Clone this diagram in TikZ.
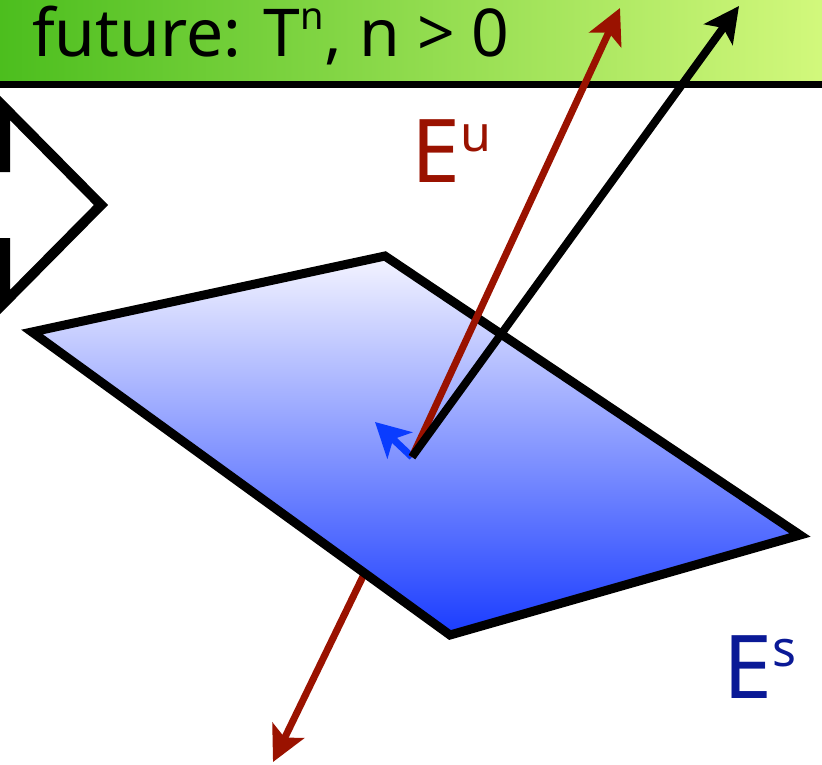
\documentclass[tikz,border=0pt]{standalone}
\usepackage{fontspec}
\setmainfont{Noto Sans}
\usetikzlibrary{arrows.meta}
\definecolor{bnleft}{HTML}{4CBE1E}
\definecolor{bnright}{HTML}{D2F87C}
\definecolor{pltop}{HTML}{F4F4FF}
\definecolor{plbot}{HTML}{1A3CFF}
\definecolor{eured}{HTML}{9A1200}
\definecolor{esblue}{HTML}{0A1996}
\definecolor{stblue}{HTML}{0A3CFF}
\newcommand\hiscript[3]{{\fontsize{#1}{#1}\selectfont\raisebox{#2}{#3}}}

\begin{document}
\begin{tikzpicture}[x=1pt, y=-1pt,
    vec/.style={line width=7pt, -{Stealth[length=35pt, width=35pt, inset=8pt]}},
    lab/.style={anchor=base west, inner sep=0pt, font=\fontsize{88}{90}\selectfont}]
  \useasboundingbox (0,0) rectangle (822,764);
  \shade[left color=bnleft, right color=bnright] (0,0) rectangle (822,84);
  \draw[line width=7.5pt] (0,84.5) -- (822,84.5);
  \node[anchor=base west, inner sep=0pt, font=\fontsize{66}{70}\selectfont] (ttl) at (32,56) {future: T\hiscript{38}{27pt}{n}, n > 0};
  \draw[line width=10pt, miter limit=10] (-60,167) -- (5,167) -- (5,108) -- (101,205) -- (5,302) -- (5,243) -- (-60,243);
  \coordinate (o) at (412,457);
  \coordinate (pl) at (32,332);
  \coordinate (pt) at (385,256);
  \coordinate (pr) at (800,535);
  \coordinate (pb) at (450,635);
  \coordinate (us) at (368,566);
  \coordinate (ud) at (273,762);
  \coordinate (uu) at (620,8);
  \coordinate (wt) at (739,6);
  \coordinate (sb) at (375,422);
  \draw[vec, eured] (us) -- (ud);
  \shade[top color=pltop, bottom color=plbot] (pl) -- (pt) -- (pr) -- (pb) -- cycle;
  \draw[line width=9pt, line join=miter] (pl) -- (pt) -- (pr) -- (pb) -- cycle;
  \draw[vec, stblue, -{Stealth[length=34pt, width=36pt, inset=9pt]}] (o) -- (sb);
  \draw[vec, eured] (o) -- (uu);
  \draw[vec, line width=8pt] (o) -- (wt);
  \node[lab, text=eured] (eu) at (411,182) {E\hiscript{50}{31pt}{u}};
  \node[lab, text=esblue] (es) at (723,698) {E\hiscript{50}{32pt}{s}};
\end{tikzpicture}
\end{document}
